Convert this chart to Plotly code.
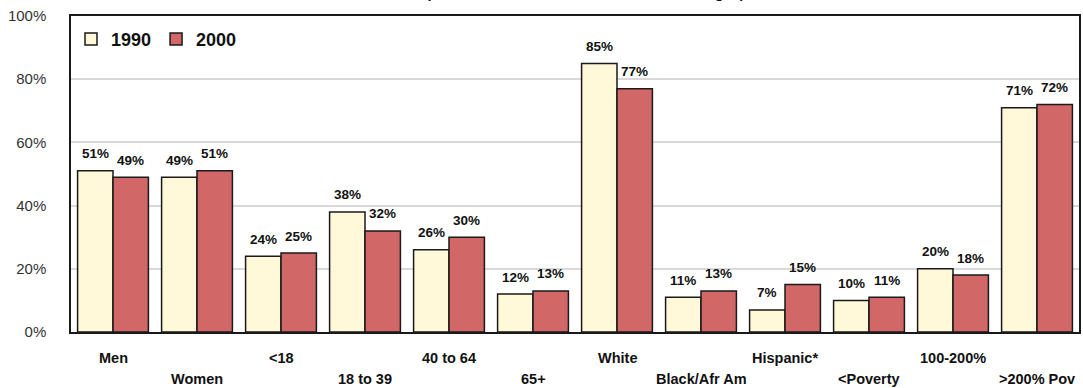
import plotly.graph_objects as go

# Category labels (two rows alternate under the axis)
categories = ["Men", "Women", "<18", "18 to 39", "40 to 64", "65+",
              "White", "Black/Afr Am", "Hispanic*", "<Poverty", "100-200%", ">200% Pov"]
values_1990 = [51, 49, 24, 38, 26, 12, 85, 11, 7, 10, 20, 71]
values_2000 = [49, 51, 25, 32, 30, 13, 77, 13, 15, 11, 18, 72]
y_ticks = [0, 20, 40, 60, 80, 100]
y_tick_labels = ["0%", "20%", "40%", "60%", "80%", "100%"]

FONT = "Liberation Sans, Arial, sans-serif"
BARGAP = 0.157
x_pos = list(range(len(categories)))
half = (1 - BARGAP) / 4  # offset of each bar centre inside its group

fig = go.Figure()
annotations = []
for k, (name, vals, color) in enumerate([("1990", values_1990, "#FFF9DA"),
                                         ("2000", values_2000, "#D16767")]):
    fig.add_trace(go.Bar(
        x=x_pos, y=vals, name=f"<b>{name}</b>",
        marker=dict(color=color, line=dict(color="#1a1a1a", width=1.5)),
    ))
    # value labels above each bar
    dx = -half if k == 0 else half
    for i, v in enumerate(vals):
        annotations.append(dict(
            x=i + dx, y=v, xref="x", yref="y", text=f"<b>{v}%</b>",
            showarrow=False, yshift=17,
            font=dict(family=FONT, size=13.5, color="#111"),
        ))

# Alternating category labels below the axis
for i, cat in enumerate(categories):
    annotations.append(dict(
        x=i, y=0, xref="x", yref="y", text=f"<b>{cat}</b>", showarrow=False,
        yshift=-26 if i % 2 == 0 else -47,
        font=dict(family=FONT, size=14.5, color="#111"),
    ))

# Chart heading, mostly above the visible page
annotations.append(dict(
    x=0.51, y=1, xref="paper", yref="paper", yshift=13, yanchor="bottom",
    text="<b>(Share of All Residents in Each of the Ranges)</b>",
    showarrow=False, font=dict(family=FONT, size=14.5, color="#111"),
))

fig.update_layout(
    width=1083, height=388,
    margin=dict(l=71, r=2, t=16, b=56),
    paper_bgcolor="white", plot_bgcolor="white",
    barmode="group", bargap=BARGAP, bargroupgap=0,
    showlegend=True,
    legend=dict(orientation="h", x=0.0, y=0.985, xanchor="left", yanchor="top",
                font=dict(family=FONT, size=18, color="#111"),
                bgcolor="rgba(0,0,0,0)", itemwidth=30, tracegroupgap=0),
    annotations=annotations,
    xaxis=dict(range=[-0.5, 11.5], showticklabels=False, ticks="",
               showline=True, linecolor="#1a1a1a", linewidth=1.5, mirror=True,
               showgrid=False, zeroline=False, fixedrange=True),
    yaxis=dict(range=[0, 100], tickvals=y_ticks, ticktext=y_tick_labels,
               tickfont=dict(family=FONT, size=15, color="#333"),
               ticks="outside", ticklen=0, ticklabelstandoff=20,
               showline=True, linecolor="#1a1a1a", linewidth=1.5, mirror=True,
               showgrid=True, gridcolor="#d9d9d9", gridwidth=1.5,
               zeroline=False, fixedrange=True),
)

fig.write_html("out.html")
